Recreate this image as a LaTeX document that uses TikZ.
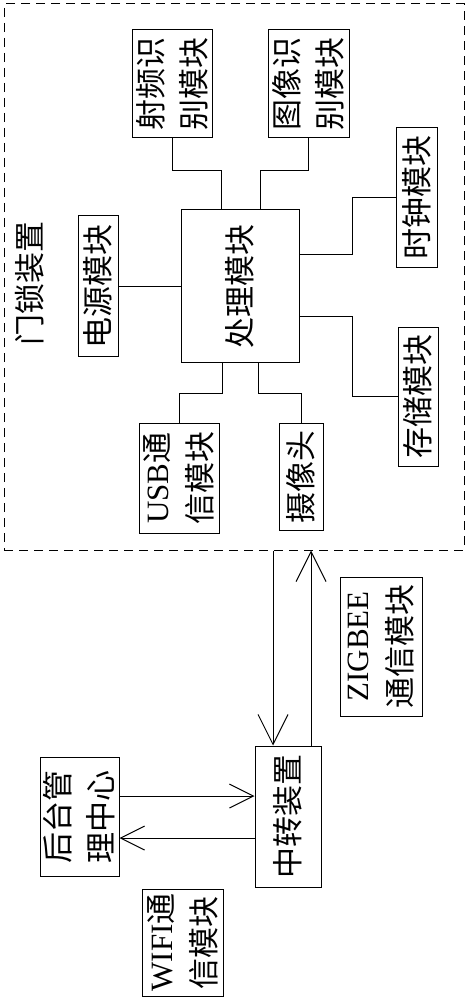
\documentclass[tikz,border=0pt]{standalone}
\usepackage{graphicx}
\usepackage{fontspec}
\setmainfont{Liberation Serif}
\newfontfamily\cjk{Noto Sans CJK SC}
\usetikzlibrary{arrows.meta}
\newcommand{\rt}[1]{\rotatebox{90}{\vbox{\baselineskip=43pt\halign{\hfil##\hfil\cr#1\crcr}}}}
\newcommand{\lat}[1]{{\rmfamily #1}}
\begin{document}
\begin{tikzpicture}[x=1pt,y=-1pt,
  box/.style={draw,line width=1pt,inner sep=0pt,font=\cjk\fontsize{31}{43}\selectfont},
  plain/.style={inner sep=0pt,font=\cjk\fontsize{31}{43}\selectfont},
  lockbox/.style={draw,line width=1pt,dash pattern=on 9pt off 6pt,inner sep=0pt},
  link/.style={line width=1pt},
  varr/.style={line width=1pt,-{Straight Barb[length=30pt,width=30pt]}},
  harr/.style={line width=1pt,-{Straight Barb[length=24pt,width=24pt]}}]
\useasboundingbox (0,0) rectangle (468,1000);
% door lock device
\node[lockbox,minimum width=460pt,minimum height=546pt] (lock) at (234,277) {};
\node[plain] (locklabel) at (30,283) {\rt{门锁装置}};
\node[box,minimum width=80pt,minimum height=108pt] (rf) at (172,84) {\rt{射频识\cr 别模块}};
\node[box,minimum width=81pt,minimum height=108pt] (img) at (308.5,84) {\rt{图像识\cr 别模块}};
\node[box,minimum width=41pt,minimum height=139pt] (clock) at (416.5,197.5) {\rt{时钟模块}};
\node[box,minimum width=118pt,minimum height=152pt] (proc) at (240,286) {\rt{处理模块}};
\node[box,minimum width=40pt,minimum height=140pt] (power) at (98,286) {\rt{电源模块}};
\node[box,minimum width=40pt,minimum height=139pt] (store) at (418,396.5) {\rt{存储模块}};
\node[box,minimum width=80pt,minimum height=110pt] (usb) at (179,478) {\rt{\lat{USB}通\cr 信模块}};
\node[box,minimum width=44pt,minimum height=107pt] (cam) at (301,476.5) {\rt{摄像头}};
% lower part
\node[box,minimum width=82pt,minimum height=139pt] (zig) at (381,646.5) {\rt{\lat{ZIGBEE}\cr 通信模块}};
\node[box,minimum width=66pt,minimum height=141pt] (relay) at (288,816.5) {\rt{中转装置}};
\node[box,minimum width=79pt,minimum height=119pt] (bg) at (79.5,816.5) {\rt{后台管\cr 理中心}};
\node[box,minimum width=81pt,minimum height=107pt] (wifi) at (182.5,942.5) {\rt{\lat{WIFI}通\cr 信模块}};
% connectors inside lock
\coordinate (c1) at (221,171);
\draw[link] (rf.south) |- (c1) -- (c1 |- proc.north);
\coordinate (c2) at (260,171);
\draw[link] (img.south) |- (c2) -- (c2 |- proc.north);
\coordinate (c3) at (352,254);
\draw[link] (c3 -| proc.east) -- (c3) |- (clock.west);
\coordinate (c4) at (352,316);
\draw[link] (c4 -| proc.east) -- (c4) |- (store.west);
\draw[link] (power.east) -- (power.east -| proc.west);
\coordinate (c5) at (222,393);
\draw[link] (c5 |- proc.south) -- (c5) -| (usb.north);
\coordinate (c6) at (258,393);
\draw[link] (c6 |- proc.south) -- (c6) -| (cam.north);
% arrows
\coordinate (d1) at (273,0);
\draw[varr] (d1 |- lock.south) -- (d1 |- relay.north);
\coordinate (d2) at (311,0);
\draw[varr] (d2 |- relay.north) -- (d2 |- lock.south);
\coordinate (e1) at (0,796);
\draw[harr] (e1 -| bg.east) -- (e1 -| relay.west);
\coordinate (e2) at (0,838);
\draw[harr] (e2 -| relay.west) -- (e2 -| bg.east);
\end{tikzpicture}
\end{document}
